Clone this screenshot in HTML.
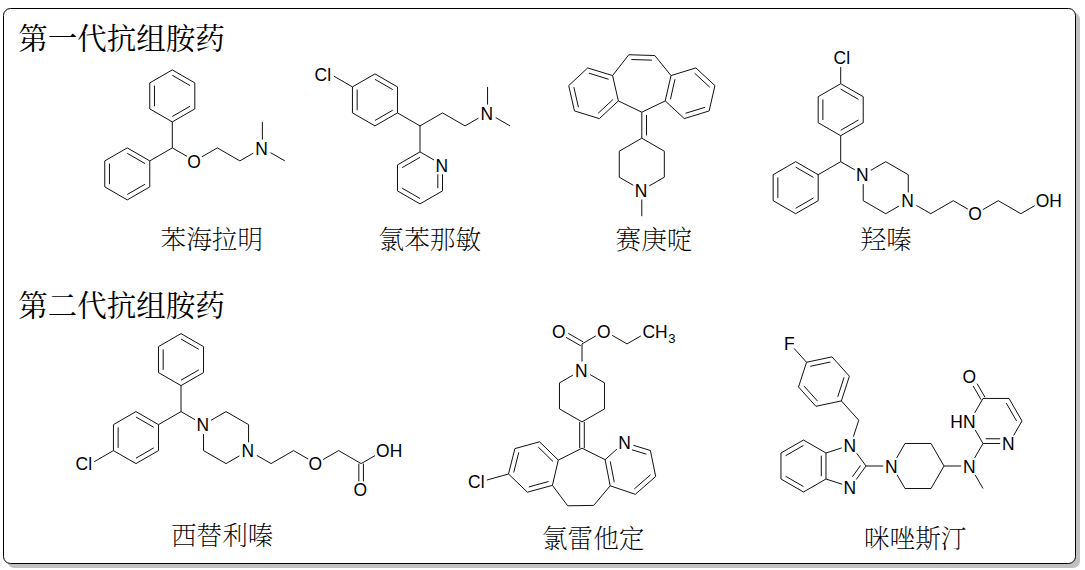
<!DOCTYPE html>
<html lang="zh-CN">
<head>
<meta charset="utf-8">
<title>抗组胺药</title>
<style>
html,body{margin:0;padding:0;background:#fff;}
body{width:1085px;height:570px;overflow:hidden;}
svg{display:block;}
</style>
</head>
<body>
<svg width="1085" height="570" viewBox="0 0 1085 570">
<rect x="0" y="0" width="1085" height="570" fill="#fff"/>
<rect x="7.5" y="12.5" width="1072.5" height="555.5" rx="7" ry="7" fill="#c0c0c0"/>
<rect x="3.5" y="8.5" width="1072" height="555" rx="7" ry="7" fill="#fff" stroke="#000" stroke-width="1"/>
<g stroke="#111" stroke-width="1.00" stroke-linecap="butt" fill="none">
<line x1="172.30" y1="121.90" x2="149.78" y2="108.90"/>
<line x1="149.78" y1="108.90" x2="149.78" y2="82.90"/>
<line x1="154.48" y1="106.19" x2="154.48" y2="85.61"/>
<line x1="149.78" y1="82.90" x2="172.30" y2="69.90"/>
<line x1="172.30" y1="69.90" x2="194.82" y2="82.90"/>
<line x1="172.30" y1="75.33" x2="190.12" y2="85.61"/>
<line x1="194.82" y1="82.90" x2="194.82" y2="108.90"/>
<line x1="194.82" y1="108.90" x2="172.30" y2="121.90"/>
<line x1="190.12" y1="106.19" x2="172.30" y2="116.47"/>
<line x1="172.30" y1="147.90" x2="172.30" y2="121.90"/>
<line x1="149.78" y1="160.90" x2="149.78" y2="186.90"/>
<line x1="149.78" y1="186.90" x2="127.27" y2="199.90"/>
<line x1="145.08" y1="184.19" x2="127.27" y2="194.47"/>
<line x1="127.27" y1="199.90" x2="104.75" y2="186.90"/>
<line x1="104.75" y1="186.90" x2="104.75" y2="160.90"/>
<line x1="109.45" y1="184.19" x2="109.45" y2="163.61"/>
<line x1="104.75" y1="160.90" x2="127.27" y2="147.90"/>
<line x1="127.27" y1="147.90" x2="149.78" y2="160.90"/>
<line x1="127.27" y1="153.33" x2="145.08" y2="163.61"/>
<line x1="172.30" y1="147.90" x2="149.78" y2="160.90"/>
<line x1="172.30" y1="147.90" x2="186.89" y2="156.32"/>
<line x1="201.84" y1="156.84" x2="217.33" y2="147.90"/>
<line x1="217.33" y1="147.90" x2="239.85" y2="160.90"/>
<line x1="239.85" y1="160.90" x2="253.24" y2="153.17"/>
<line x1="262.37" y1="139.60" x2="262.37" y2="121.90"/>
<line x1="270.59" y1="152.65" x2="284.88" y2="160.90"/>
<line x1="397.48" y1="112.90" x2="374.97" y2="125.90"/>
<line x1="392.78" y1="110.19" x2="374.97" y2="120.47"/>
<line x1="374.97" y1="125.90" x2="352.45" y2="112.90"/>
<line x1="352.45" y1="112.90" x2="352.45" y2="86.90"/>
<line x1="357.15" y1="110.19" x2="357.15" y2="89.61"/>
<line x1="352.45" y1="86.90" x2="374.97" y2="73.90"/>
<line x1="374.97" y1="73.90" x2="397.48" y2="86.90"/>
<line x1="374.97" y1="79.33" x2="392.78" y2="89.61"/>
<line x1="397.48" y1="86.90" x2="397.48" y2="112.90"/>
<line x1="420.00" y1="125.90" x2="397.48" y2="112.90"/>
<line x1="352.45" y1="86.90" x2="333.81" y2="76.14"/>
<line x1="420.00" y1="151.90" x2="434.04" y2="160.01"/>
<line x1="442.52" y1="174.30" x2="442.52" y2="190.90"/>
<line x1="437.82" y1="174.30" x2="437.82" y2="188.19"/>
<line x1="442.52" y1="190.90" x2="420.00" y2="203.90"/>
<line x1="420.00" y1="203.90" x2="397.48" y2="190.90"/>
<line x1="420.00" y1="198.47" x2="402.18" y2="188.19"/>
<line x1="397.48" y1="190.90" x2="397.48" y2="164.90"/>
<line x1="397.48" y1="164.90" x2="420.00" y2="151.90"/>
<line x1="402.18" y1="167.61" x2="420.00" y2="157.33"/>
<line x1="420.00" y1="125.90" x2="420.00" y2="151.90"/>
<line x1="420.00" y1="125.90" x2="442.52" y2="112.90"/>
<line x1="442.52" y1="112.90" x2="465.03" y2="125.90"/>
<line x1="465.03" y1="125.90" x2="478.43" y2="118.17"/>
<line x1="487.55" y1="104.60" x2="487.55" y2="86.90"/>
<line x1="495.77" y1="117.65" x2="510.07" y2="125.90"/>
<line x1="641.80" y1="112.20" x2="618.37" y2="100.92"/>
<line x1="618.37" y1="100.92" x2="612.59" y2="75.57"/>
<line x1="612.59" y1="75.57" x2="628.80" y2="54.74"/>
<line x1="628.80" y1="54.74" x2="654.80" y2="55.54"/>
<line x1="631.37" y1="59.52" x2="651.94" y2="60.16"/>
<line x1="654.80" y1="55.54" x2="671.01" y2="75.57"/>
<line x1="671.01" y1="75.57" x2="665.23" y2="100.92"/>
<line x1="674.99" y1="79.26" x2="670.41" y2="99.32"/>
<line x1="665.23" y1="100.92" x2="641.80" y2="112.20"/>
<line x1="612.59" y1="75.57" x2="587.74" y2="67.91"/>
<line x1="608.61" y1="79.26" x2="588.95" y2="73.20"/>
<line x1="587.74" y1="67.91" x2="568.69" y2="85.59"/>
<line x1="568.69" y1="85.59" x2="574.47" y2="110.94"/>
<line x1="573.87" y1="87.19" x2="578.45" y2="107.25"/>
<line x1="574.47" y1="110.94" x2="599.32" y2="118.60"/>
<line x1="599.32" y1="118.60" x2="618.37" y2="100.92"/>
<line x1="598.11" y1="113.31" x2="613.19" y2="99.32"/>
<line x1="671.01" y1="75.57" x2="695.86" y2="67.91"/>
<line x1="695.86" y1="67.91" x2="714.91" y2="85.59"/>
<line x1="694.65" y1="73.20" x2="709.73" y2="87.19"/>
<line x1="714.91" y1="85.59" x2="709.13" y2="110.94"/>
<line x1="709.13" y1="110.94" x2="684.28" y2="118.60"/>
<line x1="705.15" y1="107.25" x2="685.49" y2="113.31"/>
<line x1="684.28" y1="118.60" x2="665.23" y2="100.92"/>
<line x1="641.80" y1="112.20" x2="641.80" y2="138.20"/>
<line x1="646.50" y1="114.91" x2="646.50" y2="135.49"/>
<line x1="641.80" y1="138.20" x2="664.32" y2="151.20"/>
<line x1="664.32" y1="151.20" x2="664.32" y2="177.20"/>
<line x1="664.32" y1="177.20" x2="649.38" y2="185.83"/>
<line x1="633.32" y1="185.31" x2="619.28" y2="177.20"/>
<line x1="619.28" y1="177.20" x2="619.28" y2="151.20"/>
<line x1="619.28" y1="151.20" x2="641.80" y2="138.20"/>
<line x1="641.80" y1="199.60" x2="641.80" y2="216.20"/>
<line x1="840.70" y1="135.70" x2="818.18" y2="122.70"/>
<line x1="818.18" y1="122.70" x2="818.18" y2="96.70"/>
<line x1="822.88" y1="119.99" x2="822.88" y2="99.41"/>
<line x1="818.18" y1="96.70" x2="840.70" y2="83.70"/>
<line x1="840.70" y1="83.70" x2="863.22" y2="96.70"/>
<line x1="840.70" y1="89.13" x2="858.52" y2="99.41"/>
<line x1="863.22" y1="96.70" x2="863.22" y2="122.70"/>
<line x1="863.22" y1="122.70" x2="840.70" y2="135.70"/>
<line x1="858.52" y1="119.99" x2="840.70" y2="130.27"/>
<line x1="840.70" y1="161.70" x2="840.70" y2="135.70"/>
<line x1="840.70" y1="83.70" x2="840.70" y2="67.10"/>
<line x1="818.18" y1="174.70" x2="818.18" y2="200.70"/>
<line x1="818.18" y1="200.70" x2="795.67" y2="213.70"/>
<line x1="813.48" y1="197.99" x2="795.67" y2="208.27"/>
<line x1="795.67" y1="213.70" x2="773.15" y2="200.70"/>
<line x1="773.15" y1="200.70" x2="773.15" y2="174.70"/>
<line x1="777.85" y1="197.99" x2="777.85" y2="177.41"/>
<line x1="773.15" y1="174.70" x2="795.67" y2="161.70"/>
<line x1="795.67" y1="161.70" x2="818.18" y2="174.70"/>
<line x1="795.67" y1="167.13" x2="813.48" y2="177.41"/>
<line x1="840.70" y1="161.70" x2="818.18" y2="174.70"/>
<line x1="870.79" y1="170.33" x2="885.73" y2="161.70"/>
<line x1="885.73" y1="161.70" x2="908.25" y2="174.70"/>
<line x1="908.25" y1="174.70" x2="908.25" y2="192.40"/>
<line x1="899.13" y1="205.97" x2="885.73" y2="213.70"/>
<line x1="885.73" y1="213.70" x2="863.22" y2="200.70"/>
<line x1="863.22" y1="200.70" x2="863.22" y2="184.10"/>
<line x1="840.70" y1="161.70" x2="854.74" y2="169.81"/>
<line x1="916.47" y1="205.45" x2="930.77" y2="213.70"/>
<line x1="930.77" y1="213.70" x2="953.28" y2="200.70"/>
<line x1="953.28" y1="200.70" x2="967.87" y2="209.12"/>
<line x1="982.83" y1="209.64" x2="998.32" y2="200.70"/>
<line x1="998.32" y1="200.70" x2="1020.83" y2="213.70"/>
<line x1="1020.83" y1="213.70" x2="1034.78" y2="205.65"/>
<line x1="181.00" y1="385.60" x2="158.48" y2="372.60"/>
<line x1="158.48" y1="372.60" x2="158.48" y2="346.60"/>
<line x1="163.18" y1="369.89" x2="163.18" y2="349.31"/>
<line x1="158.48" y1="346.60" x2="181.00" y2="333.60"/>
<line x1="181.00" y1="333.60" x2="203.52" y2="346.60"/>
<line x1="181.00" y1="339.03" x2="198.82" y2="349.31"/>
<line x1="203.52" y1="346.60" x2="203.52" y2="372.60"/>
<line x1="203.52" y1="372.60" x2="181.00" y2="385.60"/>
<line x1="198.82" y1="369.89" x2="181.00" y2="380.17"/>
<line x1="181.00" y1="411.60" x2="181.00" y2="385.60"/>
<line x1="158.48" y1="424.60" x2="158.48" y2="450.60"/>
<line x1="158.48" y1="450.60" x2="135.97" y2="463.60"/>
<line x1="153.78" y1="447.89" x2="135.97" y2="458.17"/>
<line x1="135.97" y1="463.60" x2="113.45" y2="450.60"/>
<line x1="113.45" y1="450.60" x2="113.45" y2="424.60"/>
<line x1="118.15" y1="447.89" x2="118.15" y2="427.31"/>
<line x1="113.45" y1="424.60" x2="135.97" y2="411.60"/>
<line x1="135.97" y1="411.60" x2="158.48" y2="424.60"/>
<line x1="135.97" y1="417.03" x2="153.78" y2="427.31"/>
<line x1="181.00" y1="411.60" x2="158.48" y2="424.60"/>
<line x1="113.45" y1="450.60" x2="94.16" y2="461.74"/>
<line x1="211.09" y1="420.23" x2="226.03" y2="411.60"/>
<line x1="226.03" y1="411.60" x2="248.55" y2="424.60"/>
<line x1="248.55" y1="424.60" x2="248.55" y2="442.30"/>
<line x1="239.43" y1="455.87" x2="226.03" y2="463.60"/>
<line x1="226.03" y1="463.60" x2="203.52" y2="450.60"/>
<line x1="203.52" y1="450.60" x2="203.52" y2="434.00"/>
<line x1="181.00" y1="411.60" x2="195.04" y2="419.71"/>
<line x1="256.77" y1="455.35" x2="271.07" y2="463.60"/>
<line x1="271.07" y1="463.60" x2="293.58" y2="450.60"/>
<line x1="293.58" y1="450.60" x2="308.17" y2="459.02"/>
<line x1="323.13" y1="459.54" x2="338.62" y2="450.60"/>
<line x1="338.62" y1="450.60" x2="361.13" y2="463.60"/>
<line x1="361.13" y1="463.60" x2="375.08" y2="455.55"/>
<line x1="363.43" y1="463.60" x2="363.43" y2="481.30"/>
<line x1="358.83" y1="463.60" x2="358.83" y2="481.30"/>
<line x1="582.00" y1="448.20" x2="605.10" y2="459.65"/>
<line x1="605.10" y1="459.65" x2="610.20" y2="485.80"/>
<line x1="610.23" y1="461.41" x2="614.29" y2="482.24"/>
<line x1="610.20" y1="485.80" x2="593.70" y2="505.40"/>
<line x1="593.70" y1="505.40" x2="567.70" y2="505.80"/>
<line x1="567.70" y1="505.80" x2="552.40" y2="485.35"/>
<line x1="552.40" y1="485.35" x2="558.30" y2="460.10"/>
<line x1="558.30" y1="460.10" x2="582.00" y2="448.20"/>
<line x1="552.40" y1="485.35" x2="527.40" y2="492.20"/>
<line x1="548.54" y1="481.53" x2="528.77" y2="486.95"/>
<line x1="527.40" y1="492.20" x2="508.50" y2="474.00"/>
<line x1="508.50" y1="474.00" x2="514.90" y2="448.60"/>
<line x1="513.72" y1="472.52" x2="518.79" y2="452.38"/>
<line x1="514.90" y1="448.60" x2="539.60" y2="441.80"/>
<line x1="539.60" y1="441.80" x2="558.30" y2="460.10"/>
<line x1="538.25" y1="447.06" x2="553.07" y2="461.56"/>
<line x1="508.50" y1="474.00" x2="486.82" y2="480.06"/>
<line x1="610.20" y1="485.80" x2="635.30" y2="494.30"/>
<line x1="635.30" y1="494.30" x2="655.70" y2="476.50"/>
<line x1="634.25" y1="488.98" x2="650.57" y2="474.74"/>
<line x1="655.70" y1="476.50" x2="650.40" y2="450.50"/>
<line x1="650.40" y1="450.50" x2="633.41" y2="445.29"/>
<line x1="646.43" y1="454.20" x2="632.03" y2="449.79"/>
<line x1="616.87" y1="449.13" x2="605.10" y2="459.65"/>
<line x1="579.70" y1="448.20" x2="579.70" y2="421.90"/>
<line x1="584.30" y1="448.20" x2="584.30" y2="421.90"/>
<line x1="582.00" y1="421.90" x2="559.48" y2="408.90"/>
<line x1="559.48" y1="408.90" x2="559.48" y2="382.90"/>
<line x1="559.48" y1="382.90" x2="572.88" y2="375.17"/>
<line x1="590.22" y1="374.65" x2="604.52" y2="382.90"/>
<line x1="604.52" y1="382.90" x2="604.52" y2="408.90"/>
<line x1="604.52" y1="408.90" x2="582.00" y2="421.90"/>
<line x1="582.00" y1="361.60" x2="582.00" y2="343.90"/>
<line x1="580.85" y1="345.89" x2="566.01" y2="337.32"/>
<line x1="583.15" y1="341.91" x2="568.31" y2="333.34"/>
<line x1="582.00" y1="343.90" x2="595.94" y2="335.85"/>
<line x1="612.19" y1="335.33" x2="627.03" y2="343.90"/>
<line x1="627.03" y1="343.90" x2="640.78" y2="335.97"/>
<line x1="866.00" y1="466.00" x2="856.18" y2="479.52"/>
<line x1="860.60" y1="465.43" x2="852.38" y2="476.76"/>
<line x1="842.14" y1="484.25" x2="825.99" y2="479.00"/>
<line x1="825.99" y1="479.00" x2="825.99" y2="453.00"/>
<line x1="821.29" y1="476.29" x2="821.29" y2="455.71"/>
<line x1="825.99" y1="453.00" x2="841.70" y2="447.90"/>
<line x1="856.70" y1="453.20" x2="866.00" y2="466.00"/>
<line x1="825.99" y1="479.00" x2="803.47" y2="492.00"/>
<line x1="803.47" y1="492.00" x2="780.96" y2="479.00"/>
<line x1="803.47" y1="486.57" x2="785.66" y2="476.29"/>
<line x1="780.96" y1="479.00" x2="780.96" y2="453.00"/>
<line x1="780.96" y1="453.00" x2="803.47" y2="440.00"/>
<line x1="785.66" y1="455.71" x2="803.47" y2="445.43"/>
<line x1="803.47" y1="440.00" x2="825.99" y2="453.00"/>
<line x1="853.41" y1="436.67" x2="858.75" y2="420.24"/>
<line x1="841.35" y1="400.92" x2="815.92" y2="406.32"/>
<line x1="815.92" y1="406.32" x2="798.53" y2="387.00"/>
<line x1="817.60" y1="401.16" x2="803.83" y2="385.87"/>
<line x1="798.53" y1="387.00" x2="806.56" y2="362.27"/>
<line x1="806.56" y1="362.27" x2="831.99" y2="356.87"/>
<line x1="810.19" y1="366.31" x2="830.32" y2="362.03"/>
<line x1="831.99" y1="356.87" x2="849.39" y2="376.19"/>
<line x1="849.39" y1="376.19" x2="841.35" y2="400.92"/>
<line x1="844.08" y1="377.32" x2="837.72" y2="396.88"/>
<line x1="858.75" y1="420.24" x2="841.35" y2="400.92"/>
<line x1="806.56" y1="362.27" x2="794.09" y2="348.42"/>
<line x1="866.00" y1="466.00" x2="883.20" y2="466.00"/>
<line x1="896.65" y1="457.95" x2="905.00" y2="443.48"/>
<line x1="905.00" y1="443.48" x2="931.00" y2="443.48"/>
<line x1="931.00" y1="443.48" x2="944.00" y2="466.00"/>
<line x1="944.00" y1="466.00" x2="931.00" y2="488.52"/>
<line x1="931.00" y1="488.52" x2="905.00" y2="488.52"/>
<line x1="905.00" y1="488.52" x2="897.13" y2="474.88"/>
<line x1="944.00" y1="466.00" x2="961.20" y2="466.00"/>
<line x1="975.13" y1="474.88" x2="983.00" y2="488.52"/>
<line x1="983.00" y1="443.48" x2="975.13" y2="429.84"/>
<line x1="974.65" y1="412.91" x2="983.00" y2="398.45"/>
<line x1="983.00" y1="398.45" x2="1009.00" y2="398.45"/>
<line x1="1009.00" y1="398.45" x2="1022.00" y2="420.97"/>
<line x1="1006.29" y1="403.15" x2="1016.57" y2="420.97"/>
<line x1="1022.00" y1="420.97" x2="1013.65" y2="435.43"/>
<line x1="1000.20" y1="443.48" x2="983.00" y2="443.48"/>
<line x1="1000.20" y1="438.78" x2="985.71" y2="438.78"/>
<line x1="974.65" y1="457.95" x2="983.00" y2="443.48"/>
<line x1="981.01" y1="399.60" x2="973.13" y2="385.96"/>
<line x1="984.99" y1="397.30" x2="977.12" y2="383.66"/>
</g>
<g font-family="'Liberation Sans', Arial, sans-serif" font-size="18.0" fill="#000">
<text transform="translate(187.22 167.50) scale(0.970 1)">O</text>
<text transform="translate(255.26 154.50) scale(0.970 1)">N</text>
<text transform="translate(314.59 80.50) scale(0.970 1)">Cl</text>
<text transform="translate(435.41 171.50) scale(0.970 1)">N</text>
<text transform="translate(480.45 119.50) scale(0.970 1)">N</text>
<text transform="translate(634.70 196.80) scale(0.970 1)">N</text>
<text transform="translate(833.60 64.30) scale(0.970 1)">Cl</text>
<text transform="translate(856.11 181.30) scale(0.970 1)">N</text>
<text transform="translate(901.15 207.30) scale(0.970 1)">N</text>
<text transform="translate(968.21 220.30) scale(0.970 1)">O</text>
<text transform="translate(1035.76 207.30) scale(0.970 1)">OH</text>
<text transform="translate(75.59 470.20) scale(0.970 1)">Cl</text>
<text transform="translate(196.41 431.20) scale(0.970 1)">N</text>
<text transform="translate(241.45 457.20) scale(0.970 1)">N</text>
<text transform="translate(308.51 470.20) scale(0.970 1)">O</text>
<text transform="translate(376.06 457.20) scale(0.970 1)">OH</text>
<text transform="translate(353.54 496.20) scale(0.970 1)">O</text>
<text transform="translate(618.20 449.10) scale(0.970 1)">N</text>
<text transform="translate(468.12 488.30) scale(0.970 1)">Cl</text>
<text transform="translate(574.90 376.50) scale(0.970 1)">N</text>
<text transform="translate(551.89 337.50) scale(0.970 1)">O</text>
<text transform="translate(596.92 337.50) scale(0.970 1)">O</text>
<text transform="translate(642.45 337.50) scale(0.970 1)">CH<tspan dx="0.6" dy="5.00" font-size="13.50">3</tspan></text>
<text transform="translate(843.61 493.63) scale(0.970 1)">N</text>
<text transform="translate(843.61 451.57) scale(0.970 1)">N</text>
<text transform="translate(784.03 349.55) scale(0.970 1)">F</text>
<text transform="translate(884.90 472.60) scale(0.970 1)">N</text>
<text transform="translate(962.90 472.60) scale(0.970 1)">N</text>
<text transform="translate(950.29 427.57) scale(0.970 1)">HN</text>
<text transform="translate(1001.90 450.08) scale(0.970 1)">N</text>
<text transform="translate(962.41 382.53) scale(0.970 1)">O</text>
</g>
<g font-family="'Liberation Serif', 'Noto Serif CJK SC', serif" fill="#000">
<text x="18.20" y="49.00" font-size="29.50" font-weight="400">第一代抗组胺药</text>
<text x="18.20" y="316.00" font-size="29.50" font-weight="400">第二代抗组胺药</text>
<text x="160.60" y="249.00" font-size="25.60" font-weight="200">苯海拉明</text>
<text x="378.60" y="249.00" font-size="25.60" font-weight="200">氯苯那敏</text>
<text x="615.60" y="249.00" font-size="25.60" font-weight="200">赛庚啶</text>
<text x="860.60" y="249.00" font-size="25.60" font-weight="200">羟嗪</text>
<text x="171.00" y="545.00" font-size="25.60" font-weight="200">西替利嗪</text>
<text x="542.00" y="548.00" font-size="25.60" font-weight="200">氯雷他定</text>
<text x="864.00" y="548.00" font-size="25.60" font-weight="200">咪唑斯汀</text>
</g>
</svg>
</body>
</html>
